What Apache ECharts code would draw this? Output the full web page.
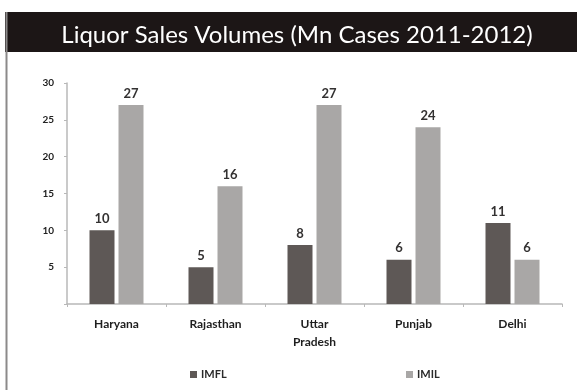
<!DOCTYPE html>
<html>
<head>
<meta charset="utf-8">
<title>Liquor Sales Volumes</title>
<script src="https://cdn.jsdelivr.net/npm/echarts@6/dist/echarts.min.js"></script>
<style>
  html, body { margin: 0; padding: 0; background: #ffffff; }
  #chart { width: 577px; height: 390px; }
</style>
</head>
<body>
<div id="chart"></div>
<script>
// States on the category axis
const states = ['Haryana', 'Rajasthan', 'Uttar\nPradesh', 'Punjab', 'Delhi'];
// Sales volumes, million cases (2011-2012)
const imfl = [10, 5, 8, 6, 11];
const imil = [27, 16, 27, 24, 6];
// Value axis ticks
const yTicks = [0, 5, 10, 15, 20, 25, 30];

const FONT = 'Lato, "Open Sans", "DejaVu Sans", sans-serif';

const chart = echarts.init(document.getElementById('chart'), null, { renderer: 'canvas' });

const labelStyle = {
  show: true,
  position: 'top',
  distance: 5,
  color: '#333131',
  fontFamily: FONT,
  fontWeight: 'bold',
  fontSize: 13
};

chart.setOption({
  backgroundColor: '#ffffff',
  animation: false,
  graphic: [
    // dark heading band
    { type: 'rect', shape: { x: 5, y: 12, width: 572, height: 40 }, style: { fill: '#1c1616' }, z: 0 },
    // left frame edge
    { type: 'line', shape: { x1: 6.5, y1: 12, x2: 6.5, y2: 390 }, style: { stroke: '#8c8a8a', lineWidth: 2 }, z: 1 }
  ],
  title: {
    text: 'Liquor Sales Volumes (Mn Cases 2011-2012)',
    left: 292,
    textAlign: 'center',
    top: 18,
    textStyle: { color: '#ffffff', fontFamily: FONT, fontWeight: 'normal', fontSize: 24 },
    z: 5
  },
  legend: [
    {
      data: ['IMFL'], left: 185, top: 364, icon: 'rect', itemWidth: 7, itemHeight: 7, itemGap: 5,
      textStyle: { color: '#2a2a2a', fontFamily: FONT, fontWeight: 'bold', fontSize: 11, padding: [0, 0, 0, -1] }
    },
    {
      data: ['IMIL'], left: 401, top: 364, icon: 'rect', itemWidth: 7, itemHeight: 7, itemGap: 5,
      textStyle: { color: '#2a2a2a', fontFamily: FONT, fontWeight: 'bold', fontSize: 11, padding: [0, 0, 0, -1] }
    }
  ],
  grid: { left: 67, right: 15, top: 83, bottom: 86, containLabel: false },
  xAxis: {
    type: 'category',
    data: states,
    axisLine: { lineStyle: { color: '#b8b8b8', width: 1.5 } },
    axisTick: { show: true, length: 3, lineStyle: { color: '#b8b8b8' } },
    axisLabel: {
      margin: 11,
      color: '#1e1e1e',
      fontFamily: FONT,
      fontWeight: 'bold',
      fontSize: 12,
      lineHeight: 18
    }
  },
  yAxis: {
    type: 'value',
    min: yTicks[0],
    max: yTicks[yTicks.length - 1],
    interval: yTicks[1] - yTicks[0],
    axisLine: { show: true, lineStyle: { color: '#b8b8b8', width: 1.5 } },
    axisTick: { show: true, length: 3, lineStyle: { color: '#b8b8b8' } },
    splitLine: { show: false },
    axisLabel: {
      margin: 13,
      color: '#222222',
      fontFamily: FONT,
      fontWeight: 'bold',
      fontSize: 10,
      formatter: v => (v === 0 ? '' : String(v))
    }
  },
  series: [
    {
      name: 'IMFL', type: 'bar', data: imfl, barWidth: 25, barGap: '16%',
      itemStyle: { color: '#5e5856' }, label: labelStyle
    },
    {
      name: 'IMIL', type: 'bar', data: imil, barWidth: 25,
      itemStyle: { color: '#a9a7a6' }, label: labelStyle
    }
  ]
});
</script>
</body>
</html>
